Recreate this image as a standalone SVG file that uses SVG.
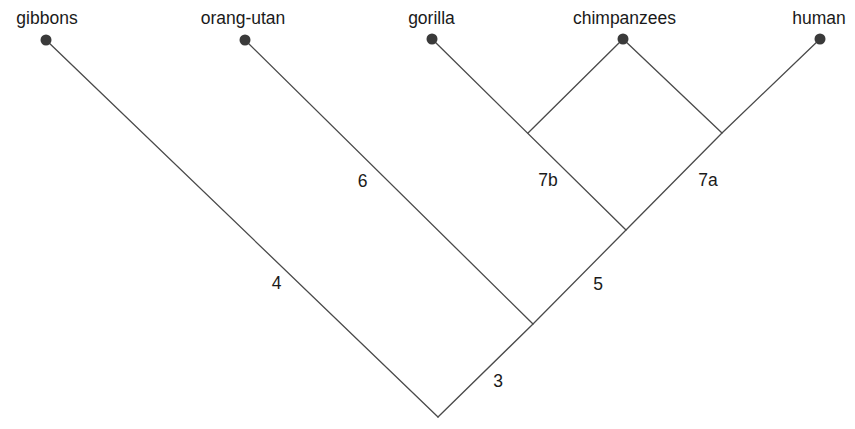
<svg xmlns="http://www.w3.org/2000/svg" width="855" height="429" viewBox="0 0 855 429">
  <style>
    .edge { stroke: #4a4a4a; stroke-width: 1.3; fill: none; stroke-linecap: round; }
    .tip { fill: #3a3a3a; }
    .name { font-family: "Liberation Sans", Arial, sans-serif; font-size: 17.5px; fill: #1a1a1a; text-anchor: middle; }
    .num { font-family: "Liberation Sans", Arial, sans-serif; font-size: 17.5px; fill: #1a1a1a; text-anchor: middle; }
  </style>
  <rect width="855" height="429" fill="#ffffff"/>

  <!-- branches of the tree -->
  <g id="connectors">
    <line class="edge" x1="46" y1="40" x2="438" y2="417"/>
    <polyline class="edge" points="438,417 533,324 626,230 722,133 820,39"/>
    <line class="edge" x1="245" y1="40" x2="533" y2="324"/>
    <line class="edge" x1="432" y1="39" x2="626" y2="230"/>
    <line class="edge" x1="623" y1="39" x2="528" y2="133"/>
    <line class="edge" x1="623" y1="39" x2="722" y2="133"/>
  </g>

  <!-- branch numbers -->
  <g id="branch-labels">
    <text class="num" x="276.5" y="289">4</text>
    <text class="num" x="362.5" y="187">6</text>
    <text class="num" x="548" y="186">7b</text>
    <text class="num" x="708" y="186">7a</text>
    <text class="num" x="598" y="290">5</text>
    <text class="num" x="498" y="387">3</text>
  </g>

  <!-- leaves -->
  <g id="gibbons">
    <circle class="tip" cx="46" cy="40" r="5.5"/>
    <text class="name" x="47" y="24">gibbons</text>
  </g>
  <g id="orang-utan">
    <circle class="tip" cx="245" cy="40" r="5.5"/>
    <text class="name" x="243" y="24">orang-utan</text>
  </g>
  <g id="gorilla">
    <circle class="tip" cx="432" cy="39" r="5.5"/>
    <text class="name" x="431.5" y="24">gorilla</text>
  </g>
  <g id="chimpanzees">
    <circle class="tip" cx="623" cy="39" r="5.5"/>
    <text class="name" x="624.5" y="24">chimpanzees</text>
  </g>
  <g id="human">
    <circle class="tip" cx="820" cy="39" r="5.5"/>
    <text class="name" x="819" y="24">human</text>
  </g>
</svg>
